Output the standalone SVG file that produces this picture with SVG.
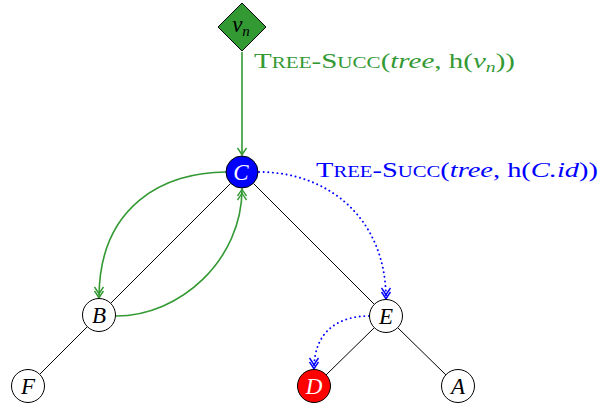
<svg xmlns="http://www.w3.org/2000/svg" width="610" height="404" viewBox="0 0 610 404">
<style>
.node{stroke:#000;stroke-width:1}
.lbl{font-family:"Liberation Serif","DejaVu Serif",serif;font-style:italic;font-size:23px;text-anchor:middle}
.tree{stroke:#000;stroke-width:1;fill:none}
.g{stroke:#339933;stroke-width:1.6;fill:none}
.b{stroke:#0000ff;stroke-width:1.9;fill:none;stroke-dasharray:0.1 4.5;stroke-linecap:round}
.t{font-family:"Liberation Serif","DejaVu Serif",serif;font-size:22px}
.sc{font-size:16px}
.it{font-style:italic}
</style>
<defs>
<marker id="g1" markerUnits="userSpaceOnUse" markerWidth="14" markerHeight="14" viewBox="-12 -7 14 14" refX="0" refY="0" orient="auto">
<path d="M-7,-4.5 Q-2,-1 0,0 Q-2,1 -7,4.5" fill="none" stroke="#339933" stroke-width="1.4"/>
</marker>
<marker id="g2" markerUnits="userSpaceOnUse" markerWidth="16" markerHeight="14" viewBox="-14 -7 16 14" refX="0" refY="0" orient="auto">
<path d="M-7,-4.5 Q-2,-1 0,0 Q-2,1 -7,4.5 M-11,-4.5 Q-6,-1 -4,0 Q-6,1 -11,4.5" fill="none" stroke="#339933" stroke-width="1.4"/>
</marker>
<marker id="b2" markerUnits="userSpaceOnUse" markerWidth="16" markerHeight="14" viewBox="-14 -7 16 14" refX="0" refY="0" orient="auto">
<path d="M-7,-4.5 Q-2,-1 0,0 Q-2,1 -7,4.5 M-11,-4.5 Q-6,-1 -4,0 Q-6,1 -11,4.5" fill="none" stroke="#0000ff" stroke-width="1.4"/>
</marker>
</defs>
<g id="connectors">
<line class="tree" x1="230.5" y1="183.5" x2="110.5" y2="303.5"/>
<line class="tree" x1="253.5" y1="183.5" x2="374" y2="304"/>
<line class="tree" x1="87" y1="327" x2="40" y2="374"/>
<line class="tree" x1="374" y1="328" x2="326" y2="375"/>
<line class="tree" x1="398" y1="328" x2="446" y2="375"/>
<line class="g" x1="242" y1="52" x2="242" y2="155" marker-end="url(#g1)"/>
<path class="g" d="M226,172 C165,172 99,205 99,298" marker-end="url(#g2)"/>
<path class="g" d="M116,316 C180,316 242,260 242,189" marker-end="url(#g2)"/>
<path class="b" d="M259,172 C330,172 386,220 386,299" marker-end="url(#b2)"/>
<path class="b" d="M369,316 C340,316 314,330 314,369" marker-end="url(#b2)"/>
</g>
<g id="vn">
<polygon points="242,3 266,27 242,51 218,27" fill="#339933" stroke="#000" stroke-width="1"/>
<text class="lbl" x="241" y="32">v<tspan font-size="15" dy="4">n</tspan></text>
</g>
<g id="C">
<circle class="node" cx="242" cy="172" r="16" fill="#0000ff"/>
<text class="lbl" x="241" y="180" fill="#fff">C</text>
</g>
<g id="B">
<circle class="node" cx="99" cy="315" r="16.5" fill="#fff"/>
<text class="lbl" x="99" y="323">B</text>
</g>
<g id="E">
<circle class="node" cx="386" cy="316" r="16.5" fill="#fff"/>
<text class="lbl" x="386" y="324">E</text>
</g>
<g id="F">
<circle class="node" cx="28" cy="386" r="16.5" fill="#fff"/>
<text class="lbl" x="28" y="394">F</text>
</g>
<g id="D">
<circle class="node" cx="314" cy="386" r="16.5" fill="#ff0000"/>
<text class="lbl" x="314" y="394" fill="#fff">D</text>
</g>
<g id="A">
<circle class="node" cx="458" cy="386" r="16.5" fill="#fff"/>
<text class="lbl" x="458" y="394">A</text>
</g>
<g id="labels">
<text class="t" x="254" y="68" fill="#339933" textLength="261" lengthAdjust="spacingAndGlyphs">T<tspan class="sc">REE</tspan>-S<tspan class="sc">UCC</tspan>(<tspan class="it">tree</tspan>, h(<tspan class="it">v</tspan><tspan font-size="15" class="it" dy="4">n</tspan><tspan dy="-4">))</tspan></text>
<text class="t" x="316" y="177" fill="#0000ff" textLength="282" lengthAdjust="spacingAndGlyphs">T<tspan class="sc">REE</tspan>-S<tspan class="sc">UCC</tspan>(<tspan class="it">tree</tspan>, h(<tspan class="it">C.id</tspan>))</text>
</g>
</svg>
